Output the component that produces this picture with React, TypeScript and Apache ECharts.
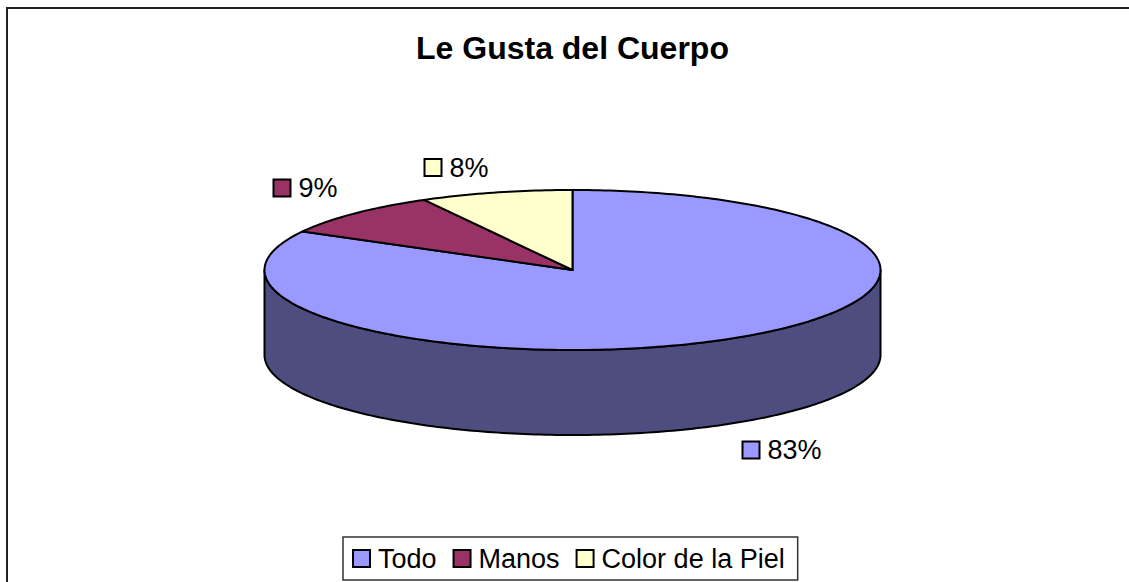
import React, { useEffect, useRef } from "react";
import * as echarts from "echarts";

const titleText = "Le Gusta del Cuerpo";
const categories = ["Todo", "Manos", "Color de la Piel"];
const percentages = [83, 9, 8];

const topColors = ["#9999ff", "#993366", "#ffffcc"];
const sideColors = ["#4d4d80", "#4d1a33", "#808066"];
// layout: centre of each label's key square
const labelBoxes = [
  [751, 450],
  [282, 188],
  [433, 167.5],
];

const CX = 572.5;
const CY = 270;
const RX = 308;
const RY = 80;
const DEPTH = 85;
const FONT = "'Liberation Sans', Arial, Helvetica, sans-serif";

const total = percentages.reduce((s, v) => s + v, 0);

function pt(theta: number, dy = 0): number[] {
  return [CX + RX * Math.sin(theta), CY - RY * Math.cos(theta) + dy];
}
function arc(a: number, b: number, dy: number): number[][] {
  const n = Math.max(2, Math.ceil((b - a) / (Math.PI / 180)));
  const pts: number[][] = [];
  for (let i = 0; i <= n; i++) pts.push(pt(a + ((b - a) * i) / n, dy));
  return pts;
}

function makeRender(i: number) {
  return (params: any, api: any) => {
    const v = api.value(0);
    const before = percentages.slice(0, i).reduce((s, x) => s + x, 0);
    const start = (before / total) * Math.PI * 2;
    const end = start + (v / total) * Math.PI * 2;
    const children: any[] = [];
    const a = Math.max(start, Math.PI / 2);
    const b = Math.min(end, (Math.PI * 3) / 2);
    if (a < b) {
      const top = arc(a, b, 0);
      const bot = arc(a, b, DEPTH).reverse();
      children.push({
        type: "polygon",
        shape: { points: top.concat(bot) },
        style: { fill: sideColors[i], stroke: "#000", lineWidth: 2, lineJoin: "round" },
      });
    }
    children.push({
      type: "polygon",
      shape: { points: [[CX, CY]].concat(arc(start, end, 0)) },
      style: { fill: topColors[i], stroke: "#000", lineWidth: 2, lineJoin: "round" },
    });
    const [bx, by] = labelBoxes[i];
    children.push({
      type: "rect",
      shape: { x: bx - 8.5, y: by - 8.5, width: 17, height: 17 },
      style: { fill: topColors[i], stroke: "#000", lineWidth: 2 },
    });
    children.push({
      type: "text",
      style: {
        x: bx + 16.5,
        y: by,
        text: Math.round((v / total) * 100) + "%",
        fill: "#000",
        fontSize: 27,
        fontFamily: FONT,
        align: "left",
        verticalAlign: "middle",
      },
    });
    return { type: "group", children };
  };
}

export default function App() {
  const ref = useRef<HTMLDivElement>(null);
  useEffect(() => {
    document.body.style.margin = "0";
    const chart = echarts.init(ref.current!, null, { renderer: "svg" });
    chart.setOption({
      animation: false,
      backgroundColor: "#ffffff",
      color: topColors,
      title: {
        text: titleText,
        left: 416,
        top: 32,
        padding: 0,
        textStyle: { fontSize: 32, fontWeight: "bold", fontFamily: FONT, color: "#000" },
      },
      legend: {
        data: categories,
        left: 343,
        top: 537,
        orient: "horizontal",
        icon: "rect",
        itemWidth: 17,
        itemHeight: 17,
        itemGap: 16,
        padding: [8, 13, 8, 9],
        borderColor: "#333",
        borderWidth: 1.5,
        selectedMode: false,
        textStyle: { fontSize: 27, fontFamily: FONT, color: "#000", padding: [0, 0, 0, 3] },
        itemStyle: { borderColor: "#000", borderWidth: 2 },
      },
      graphic: [
        {
          type: "rect",
          silent: true,
          z: -1,
          shape: { x: 7, y: 8, width: 1300, height: 800 },
          style: { fill: "none", stroke: "#222", lineWidth: 2 },
        },
      ],
      series: categories.map((name, i) => ({
        type: "custom",
        name,
        coordinateSystem: "none",
        renderItem: makeRender(i),
        data: [[percentages[i]]],
        itemStyle: { color: topColors[i], borderColor: "#000", borderWidth: 2 },
        silent: true,
      })),
    });
    return () => chart.dispose();
  }, []);
  return <div ref={ref} style={{ width: 1129, height: 582 }} />;
}
